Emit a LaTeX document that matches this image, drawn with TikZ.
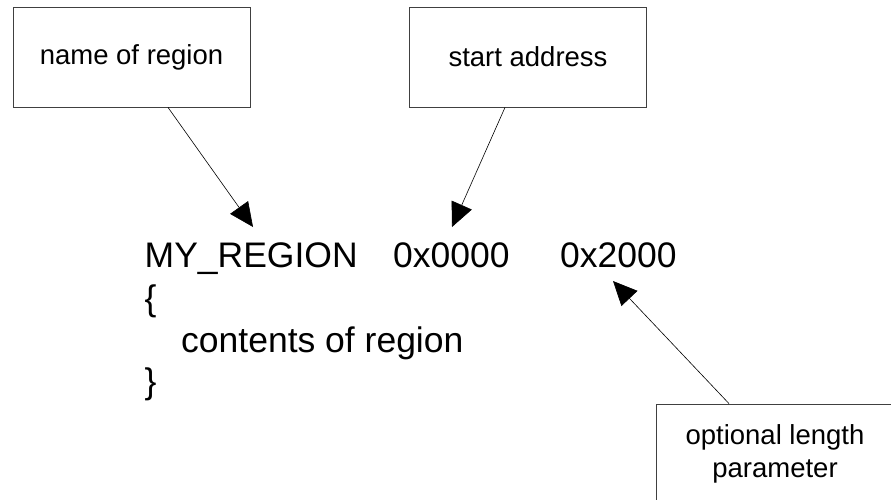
\documentclass[tikz,border=0pt]{standalone}
\usepackage{fontspec}
\setmainfont{Liberation Sans}
\usetikzlibrary{arrows.meta}
\begin{document}
\begin{tikzpicture}[x=1pt,y=-1pt,
  callout/.style={draw=black!75, line width=0.8pt, minimum width=237pt, minimum height=100pt,
    inner sep=0pt, font=\fontsize{27.5}{33}\selectfont, align=center},
  code/.style={anchor=base west, inner sep=0pt, font=\fontsize{35.5}{42}\selectfont},
  pointer/.style={line width=0.6pt, -{Triangle[length=24pt,width=22pt]}}]
\useasboundingbox (0,0) rectangle (891,499);
\clip (0,0) rectangle (891,499);
% code text
\node[code] (myreg) at (144.5,267) {MY\_REGION};
\node[code] (addr) at (393,267) {0x0000};
\node[code] (len) at (560,267) {0x2000};
\node[code] (obrace) at (144.5,310) {\{};
\node[code] (cont) at (181,352) {contents of region};
\node[code] (cbrace) at (144.5,393) {\}};
% callout boxes
\node[callout] (b1) at (131.5,57) {name of region};
\node[callout] (b2) at (528,57) {start address};
\node[callout] (b3) at (775,454) {optional length\\parameter};
% arrow tips
\coordinate (t1) at (253,227);
\coordinate (t2) at (452,227);
\coordinate (t3) at (613,281);
\draw[pointer] ([xshift=36.5pt]b1.south) -- (t1);
\draw[pointer] ([xshift=-23pt]b2.south) -- (t2);
\draw[pointer] ([xshift=-46pt]b3.north) -- (t3);
\end{tikzpicture}
\end{document}
